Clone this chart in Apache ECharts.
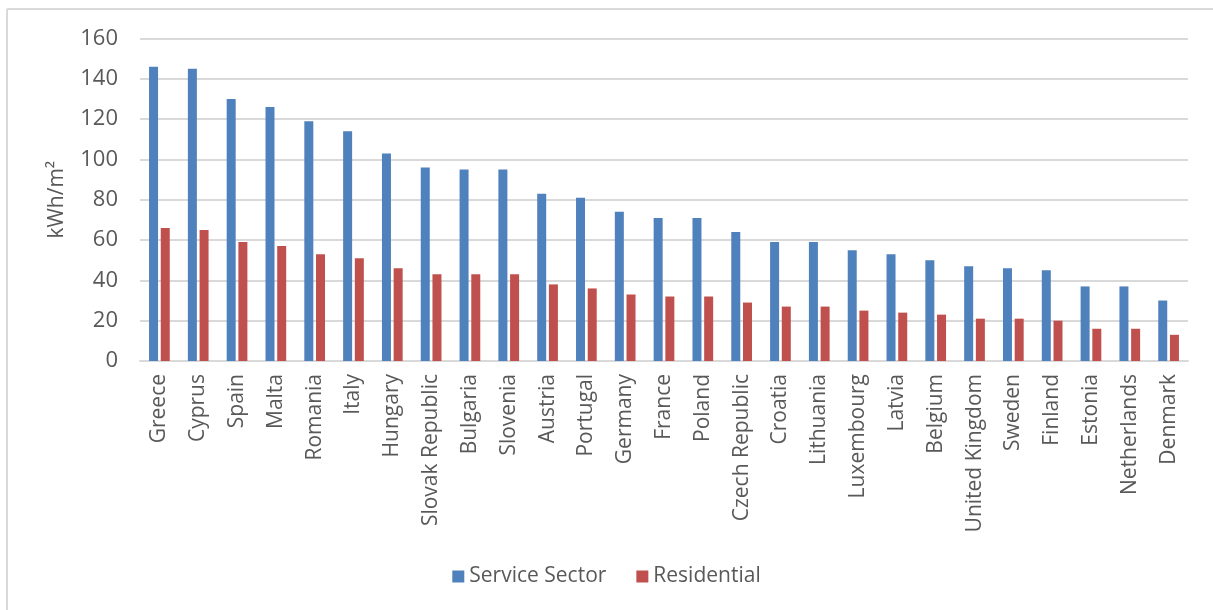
<!DOCTYPE html>
<html>
<head>
<meta charset="utf-8">
<script src="https://cdn.jsdelivr.net/npm/echarts@6/dist/echarts.min.js"></script>
<style>
  html, body { margin: 0; padding: 0; background: #fff; }
  #chart { width: 1213px; height: 610px; }
</style>
</head>
<body>
<div id="chart"></div>
<script>
  // 国家
  var countries = ['Greece', 'Cyprus', 'Spain', 'Malta', 'Romania', 'Italy', 'Hungary',
    'Slovak Republic', 'Bulgaria', 'Slovenia', 'Austria', 'Portugal', 'Germany', 'France',
    'Poland', 'Czech Republic', 'Croatia', 'Lithuania', 'Luxembourg', 'Latvia', 'Belgium',
    'United Kingdom', 'Sweden', 'Finland', 'Estonia', 'Netherlands', 'Denmark'];
  var serviceSector = [146, 145, 130, 126, 119, 114, 103, 96, 95, 95, 83, 81, 74, 71, 71, 64,
    59, 59, 55, 53, 50, 47, 46, 45, 37, 37, 30];
  var residential = [66, 65, 59, 57, 53, 51, 46, 43, 43, 43, 38, 36, 33, 32, 32, 29, 27, 27,
    25, 24, 23, 21, 21, 20, 16, 16, 13];
  var yTicks = [0, 20, 40, 60, 80, 100, 120, 140, 160];

  var font = '"Open Sans", sans-serif';
  var myChart = echarts.init(document.getElementById('chart'));

  var options = {
    backgroundColor: '#fff',
    animation: false,
    textStyle: { fontFamily: font },
    graphic: [
      { type: 'line', shape: { x1: 7, y1: 9, x2: 1213, y2: 9 }, style: { stroke: '#d9d9d9', lineWidth: 2 } },
      { type: 'line', shape: { x1: 7, y1: 9, x2: 7, y2: 610 }, style: { stroke: '#d9d9d9', lineWidth: 2 } }
    ],
    legend: {
      data: ['Service Sector', 'Residential'],
      bottom: 18,
      left: 'center',
      itemWidth: 12,
      itemHeight: 12,
      itemGap: 30,
      icon: 'rect',
      textStyle: { color: '#595959', fontSize: 21, fontFamily: font }
    },
    grid: {
      left: 140,
      right: 25,
      top: 38.5,
      bottom: 249,
      containLabel: false
    },
    xAxis: {
      type: 'category',
      data: countries,
      axisLine: { lineStyle: { color: '#d9d9d9', width: 2 } },
      axisTick: { show: false },
      axisLabel: {
        rotate: 90,
        interval: 0,
        margin: 13,
        color: '#595959',
        fontSize: 21,
        fontFamily: font
      }
    },
    yAxis: {
      type: 'value',
      min: yTicks[0],
      max: yTicks[yTicks.length - 1],
      interval: 20,
      name: 'kWh/m²',
      nameLocation: 'middle',
      nameGap: 72,
      nameTextStyle: { color: '#595959', fontSize: 21, fontFamily: font },
      axisLine: { show: false },
      axisTick: { show: false },
      axisLabel: { color: '#595959', fontSize: 22, margin: 22, fontFamily: font },
      splitLine: { lineStyle: { color: '#d9d9d9', width: 2 } }
    },
    series: [
      {
        name: 'Service Sector',
        type: 'bar',
        data: serviceSector,
        barWidth: 9,
        barGap: '30%',
        itemStyle: { color: '#4f81bd' }
      },
      {
        name: 'Residential',
        type: 'bar',
        data: residential,
        barWidth: 9,
        barGap: '30%',
        itemStyle: { color: '#c0504d' }
      }
    ]
  };

  myChart.setOption(options);
</script>
</body>
</html>
